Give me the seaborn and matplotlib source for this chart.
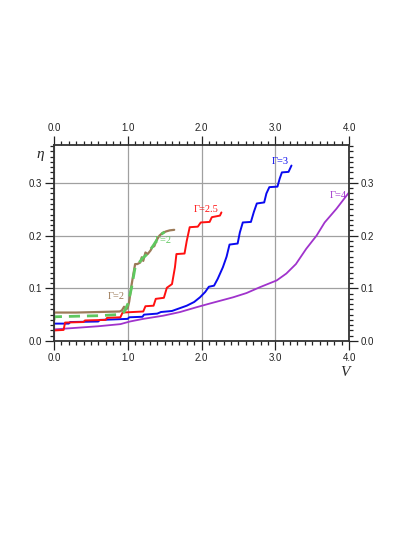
import matplotlib
matplotlib.use("Agg")
import matplotlib.pyplot as plt
from matplotlib.ticker import MultipleLocator, FormatStrFormatter
import seaborn as sns
import pandas as pd

# ---- data ----
v_g2_brown = [0, 0, 0.3, 0.6, 0.89, 0.92, 0.95, 0.98, 1.0, 1.02, 1.05, 1.08, 1.10, 1.13, 1.17,
              1.19, 1.21, 1.24, 1.27, 1.31, 1.33, 1.36, 1.39, 1.43, 1.47, 1.52, 1.57, 1.63]
eta_g2_brown = [0.038, 0.054, 0.054, 0.055, 0.056, 0.058, 0.065, 0.060, 0.063, 0.075, 0.105, 0.130,
                0.146, 0.146, 0.149, 0.159, 0.152, 0.168, 0.165, 0.172, 0.178, 0.180, 0.191, 0.200,
                0.205, 0.208, 0.210, 0.211]

v_g2_green = [0, 0, 0.3, 0.6, 0.85, 0.95, 1.0, 1.05, 1.10, 1.15, 1.20, 1.25, 1.30, 1.35, 1.40, 1.45, 1.50]
eta_g2_green = [0.040, 0.046, 0.047, 0.048, 0.050, 0.055, 0.070, 0.100, 0.140, 0.148, 0.157, 0.163,
                0.172, 0.182, 0.193, 0.202, 0.207]

v_g25 = [0, 0.13, 0.15, 0.40, 0.42, 0.70, 0.72, 0.90, 0.93, 1.21, 1.24, 1.35, 1.38, 1.49, 1.53,
         1.60, 1.64, 1.66, 1.77, 1.80, 1.84, 1.95, 1.99, 2.11, 2.14, 2.25, 2.27]
eta_g25 = [0.020, 0.021, 0.035, 0.036, 0.039, 0.040, 0.044, 0.045, 0.054, 0.056, 0.066, 0.067, 0.080,
           0.082, 0.101, 0.108, 0.140, 0.165, 0.166, 0.190, 0.216, 0.217, 0.225, 0.226, 0.235, 0.238, 0.244]

v_g3 = [0, 0.2, 0.22, 0.6, 0.62, 1.0, 1.02, 1.2, 1.22, 1.4, 1.45, 1.6, 1.7, 1.8, 1.9, 1.98, 2.05,
        2.10, 2.17, 2.22, 2.29, 2.34, 2.38, 2.49, 2.52, 2.56, 2.67, 2.71, 2.75, 2.85, 2.88, 2.92,
        3.03, 3.06, 3.09, 3.18, 3.22]
eta_g3 = [0.033, 0.033, 0.036, 0.037, 0.040, 0.042, 0.045, 0.046, 0.050, 0.052, 0.055, 0.057, 0.062,
          0.067, 0.074, 0.083, 0.093, 0.103, 0.105, 0.118, 0.140, 0.160, 0.183, 0.185, 0.206, 0.225,
          0.226, 0.245, 0.261, 0.263, 0.280, 0.292, 0.293, 0.308, 0.320, 0.321, 0.333]

v_g4 = [0, 0, 0.3, 0.6, 0.9, 1.03, 1.21, 1.48, 1.71, 1.93, 2.11, 2.27, 2.43, 2.61, 2.79, 3.02,
        3.15, 3.28, 3.42, 3.56, 3.67, 3.83, 4.0]
eta_g4 = [0.0, 0.022, 0.025, 0.028, 0.032, 0.037, 0.042, 0.048, 0.055, 0.064, 0.071, 0.077, 0.083,
          0.091, 0.102, 0.115, 0.128, 0.146, 0.175, 0.200, 0.225, 0.251, 0.282]

x_ticks = [0.0, 1.0, 2.0, 3.0, 4.0]
y_ticks = [0.0, 0.1, 0.2, 0.3]

labels = ["\u0393=2", "\u0393=2", "\u0393=2.5", "\u0393=3", "\u0393=4"]

# ---- figure ----
sns.set_style("white")
plt.rcParams['font.family'] = ['Liberation Sans', 'DejaVu Sans']

fig = plt.figure(figsize=(4.15, 5.37), dpi=100)
ax = fig.add_axes([54/415, 1 - 341/537, 295/415, 196/537])

c_brown = "#9c7a58"
c_green = "#5fc85f"
c_red = "#ff1010"
c_blue = "#0a0af0"
c_purple = "#a033cc"

def draw(v, e, color, **kw):
    df = pd.DataFrame({"V": v, "eta": e})
    sns.lineplot(data=df, x="V", y="eta", sort=False, estimator=None, color=color, ax=ax, **kw)

draw(v_g4, eta_g4, c_purple, linewidth=1.3)
draw(v_g3, eta_g3, c_blue, linewidth=1.4)
draw(v_g25, eta_g25, c_red, linewidth=1.4)
draw(v_g2_brown, eta_g2_brown, c_brown, linewidth=1.6)
draw(v_g2_green, eta_g2_green, c_green, linewidth=2.0, linestyle=(0, (4, 2.5)))

ax.set_xlim(0, 4.0)
ax.set_ylim(0, 0.372)
ax.xaxis.set_major_locator(MultipleLocator(1.0))
ax.xaxis.set_minor_locator(MultipleLocator(0.1))
ax.yaxis.set_major_locator(MultipleLocator(0.1))
ax.yaxis.set_minor_locator(MultipleLocator(0.01))
ax.set_xticks(x_ticks)
ax.set_yticks(y_ticks)
ax.xaxis.set_major_formatter(FormatStrFormatter("%.1f"))
ax.yaxis.set_major_formatter(FormatStrFormatter("%.1f"))

ax.tick_params(which="both", direction="out", top=True, right=True, bottom=True, left=True,
               labeltop=True, labelright=True, colors="#222222", labelsize=7, width=0.9)
ax.tick_params(which="major", length=6.5, pad=2)
ax.tick_params(which="minor", length=3.2)

ax.grid(True, which="major", color="#a0a0a0", linewidth=0.9)
ax.set_axisbelow(True)
for s in ax.spines.values():
    s.set_color("#333333")
    s.set_linewidth(1.3)

ax.set_xlabel("")
ax.set_ylabel("")
ax.text(-0.045, 0.95, "\u03b7", transform=ax.transAxes, ha="center", va="center",
        fontsize=11, fontstyle="italic", family="Liberation Serif")
ax.text(0.985, -0.162, "V", transform=ax.transAxes, ha="center", va="center",
        fontsize=11, fontstyle="italic", family="Liberation Serif")

ann_font = dict(fontsize=7.5, family="Liberation Serif")
ax.text(0.84, 0.085, labels[0], color=c_brown, ha="center", va="center", **ann_font)
ax.text(1.48, 0.19, labels[1], color=c_green, ha="center", va="center", **ann_font)
ax.text(2.07, 0.249, labels[2], color=c_red, ha="center", va="center", **ann_font)
ax.text(3.07, 0.340, labels[3], color=c_blue, ha="center", va="center", **ann_font)
ax.text(3.86, 0.277, labels[4], color=c_purple, ha="center", va="center", **ann_font)

fig.savefig("out.png", dpi=100, facecolor="white")
